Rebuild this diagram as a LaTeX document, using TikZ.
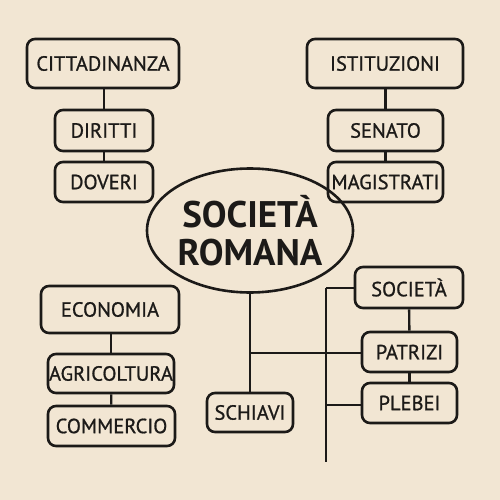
\documentclass[tikz,border=0pt]{standalone}
\usepackage{fontspec}
\setmainfont{PT Sans}
\newfontfamily\boxfont{PT Sans}[FakeBold=0.9]
\usetikzlibrary{shapes.geometric}
\definecolor{bg}{RGB}{242,230,211}
\definecolor{ink}{RGB}{28,26,24}
\tikzset{
  box/.style={draw=ink, line width=2.6pt, rounded corners=8pt, inner sep=0pt, text=ink, font=\boxfont\fontsize{20.5}{24}\selectfont},
  link/.style={draw=ink, line width=2.4pt},
}
\begin{document}
\begin{tikzpicture}[x=1pt,y=-1pt]
\fill[bg] (0,0) rectangle (500,500);
\useasboundingbox (0,0) rectangle (500,500);
% main
\node[draw=ink, line width=2.6pt, ellipse, minimum width=206pt, minimum height=124pt, inner sep=0pt, align=center, text=ink, font=\fontsize{37}{38}\selectfont\bfseries] (main) at (250,230.5) {SOCIETÀ\\ROMANA};
% cittadinanza
\node[box, minimum width=152pt, minimum height=49pt] (citt) at (103,63.5) {CITTADINANZA};
\node[box, minimum width=98pt, minimum height=41pt] (dir) at (104,130.5) {DIRITTI};
\node[box, minimum width=98pt, minimum height=40pt] (dov) at (104,182) {DOVERI};
% istituzioni
\node[box, minimum width=156pt, minimum height=49pt] (ist) at (385,63.5) {ISTITUZIONI};
\node[box, minimum width=115pt, minimum height=41pt] (sen) at (385.5,130.5) {SENATO};
\node[box, minimum width=115pt, minimum height=40pt] (mag) at (385.5,182) {MAGISTRATI};
% economia
\node[box, minimum width=138pt, minimum height=47pt] (eco) at (110,309.5) {ECONOMIA};
\node[box, minimum width=126pt, minimum height=39pt] (agr) at (111,373.5) {AGRICOLTURA};
\node[box, minimum width=127pt, minimum height=40pt] (com) at (111.5,426) {COMMERCIO};
% schiavi
\node[box, minimum width=86pt, minimum height=39pt] (sch) at (250,412.5) {SCHIAVI};
% societa
\node[box, minimum width=108pt, minimum height=41pt] (soc) at (409,287.5) {SOCIETÀ};
\node[box, minimum width=95pt, minimum height=40pt] (pat) at (409.5,352) {PATRIZI};
\node[box, minimum width=95pt, minimum height=40pt] (ple) at (409.5,403) {PLEBEI};
% coordinates
\coordinate (j1) at (250,353);
\coordinate (vt) at (326,288);
\coordinate (vb) at (326,462);
\coordinate (vp) at (326,405);
% connectors
\draw[link] (citt.south -| dir.north) -- (dir.north);
\draw[link] (dir) -- (dov);
\draw[link] (ist.south -| sen.north) -- (sen.north);
\draw[link] (sen) -- (mag);
\draw[link] (eco.south -| agr.north) -- (agr.north);
\draw[link] (agr) -- (com);
\draw[link] (main.south) -- (sch.north);
\draw[link] (j1) -- (j1 -| pat.west);
\draw[link] (vt) -- (vb);
\draw[link] (vt) -- (vt -| soc.west);
\draw[link] (vp) -- (vp -| ple.west);
\draw[link] (soc) -- (pat);
\draw[link] (pat) -- (ple);
\end{tikzpicture}
\end{document}
